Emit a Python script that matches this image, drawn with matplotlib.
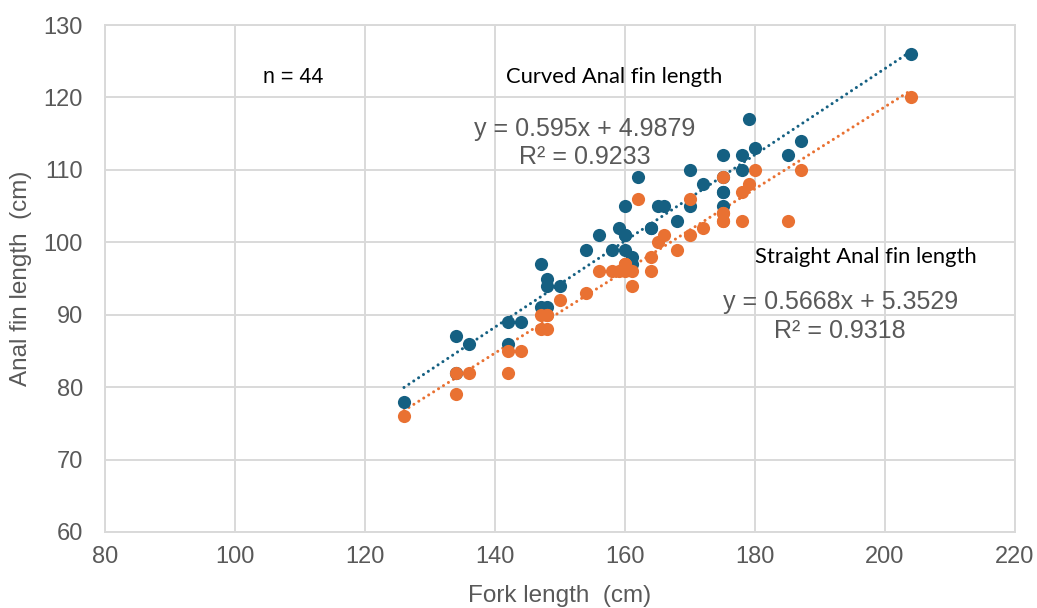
import numpy as np
import matplotlib.pyplot as plt

# === Data: fork length vs anal fin length (cm), 44 fish ===
fork_length = [126, 134, 134, 136, 142, 142, 144, 147, 147, 148, 148, 148,
               150, 154, 156, 158, 159, 160, 160, 160, 160, 161, 161, 162,
               164, 164, 165, 166, 168, 170, 170, 172, 175, 175, 175, 175,
               175, 178, 178, 179, 180, 185, 187, 204]
curved_anal = [78, 87, 82, 86, 89, 86, 89, 97, 91, 95, 94, 91,
               94, 99, 101, 99, 102, 105, 101, 99, 101, 98, 97, 109,
               102, 102, 105, 105, 103, 110, 105, 108, 112, 109, 107, 105,
               107, 112, 110, 117, 113, 112, 114, 126]
straight_anal = [76, 82, 79, 82, 85, 82, 85, 90, 88, 90, 90, 88,
                 92, 93, 96, 96, 96, 97, 97, 96, 97, 94, 96, 106,
                 98, 96, 100, 101, 99, 106, 101, 102, 109, 104, 103, 103,
                 104, 107, 103, 108, 110, 103, 110, 120]

# trendline coefficients as printed on the chart
curved_fit = (0.595, 4.9879)
straight_fit = (0.5668, 5.3529)
curved_r2 = 0.9233
straight_r2 = 0.9318

blue = "#156082"
orange = "#E97132"
grid_c = "#d9d9d9"
txt_gray = "#595959"

fig = plt.figure(figsize=(10.37, 6.08), dpi=100)
ax = fig.add_axes([105 / 1037, 1 - 532 / 608, 910 / 1037, 507 / 608])

# trendlines over the data range
xs = np.array([min(fork_length), max(fork_length)])
dots = (0, (0.01, 1.9))
ax.plot(xs, curved_fit[0] * xs + curved_fit[1], color=blue, lw=2.2,
        linestyle=dots, dash_capstyle="round", zorder=2)
ax.plot(xs, straight_fit[0] * xs + straight_fit[1], color=orange, lw=2.2,
        linestyle=dots, dash_capstyle="round", zorder=2)

ax.scatter(fork_length, curved_anal, s=90, color=blue, zorder=3, linewidths=0)
ax.scatter(fork_length, straight_anal, s=90, color=orange, zorder=4, linewidths=0)

ax.set_xlim(80, 220)
ax.set_ylim(60, 130)
ax.set_xticks(np.arange(80, 221, 20))
ax.set_yticks(np.arange(60, 131, 10))
ax.grid(True, color=grid_c, lw=1.4)
ax.set_axisbelow(True)
for s in ax.spines.values():
    s.set_color(grid_c)
    s.set_linewidth(1.4)
ax.tick_params(length=0, labelsize=17, labelcolor=txt_gray)
ax.tick_params(axis="x", pad=10)
ax.tick_params(axis="y", pad=16)
for lab in ax.get_xticklabels() + ax.get_yticklabels():
    lab.set_fontfamily("Liberation Sans")

ax.set_xlabel("Fork length  (cm)", fontsize=17.5, color=txt_gray,
              family="Liberation Sans", labelpad=12)
ax.set_ylabel("Anal fin length  (cm)", fontsize=17.5, color=txt_gray,
              family="Liberation Sans", labelpad=8)

# annotations
ax.text(108.9, 122.8, "n = 44", fontsize=15.5, ha="center", va="center",
        family="Liberation Sans")
ax.text(158.3, 122.8, "Curved Anal fin length", fontsize=15.8, ha="center",
        va="center", family="Lato")
ax.text(153.8, 115.6, f"y = {curved_fit[0]}x + {curved_fit[1]}", fontsize=18,
        ha="center", va="center", color=txt_gray, family="Liberation Sans")
ax.text(153.8, 111.8, f"R² = {curved_r2}", fontsize=18, ha="center",
        va="center", color=txt_gray, family="Liberation Sans")
ax.text(197.1, 98.0, "Straight Anal fin length", fontsize=15.8, ha="center",
        va="center", family="Lato")
ax.text(193.1, 91.8, f"y = {straight_fit[0]}x + {straight_fit[1]}", fontsize=18,
        ha="center", va="center", color=txt_gray, family="Liberation Sans")
ax.text(193.1, 87.75, f"R² = {straight_r2}", fontsize=18, ha="center",
        va="center", color=txt_gray, family="Liberation Sans")

plt.savefig("out.png", dpi=100)
